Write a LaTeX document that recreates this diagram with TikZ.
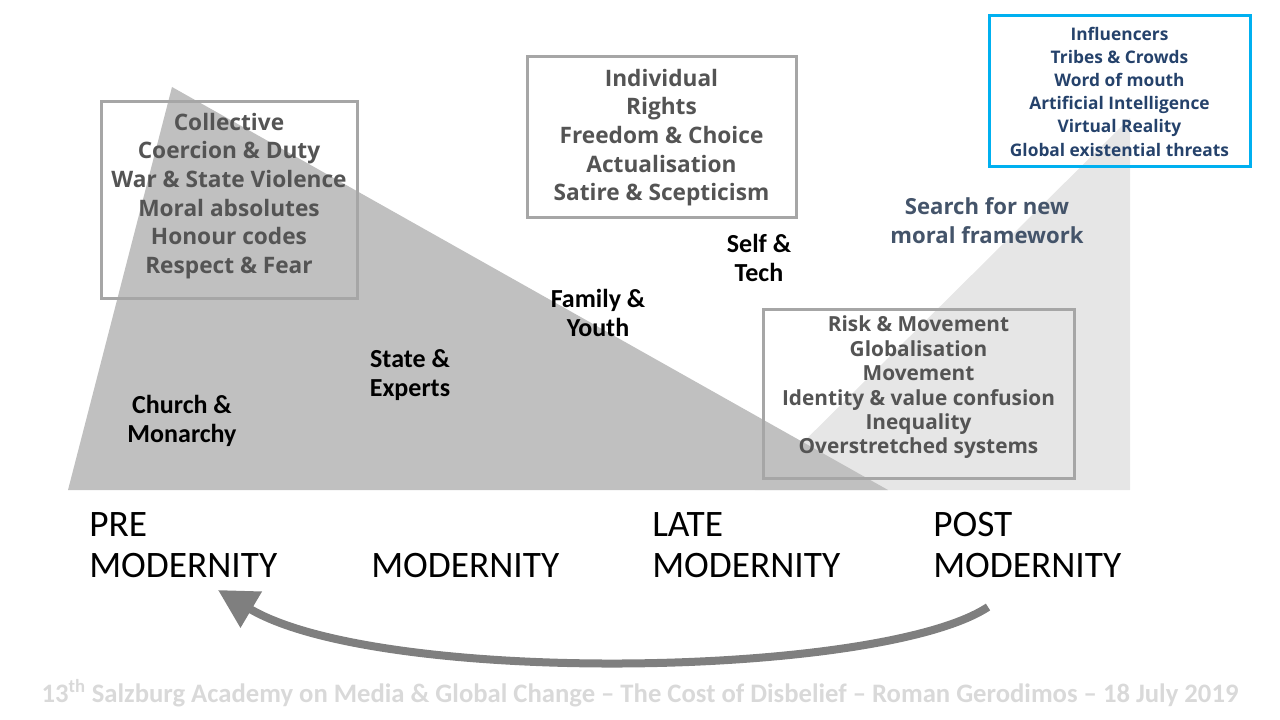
\documentclass[tikz,border=0pt]{standalone}
\usepackage{fontspec}
\setmainfont{Carlito}
\newfontfamily\slidefont{Open Sans}
\usetikzlibrary{arrows.meta}
\definecolor{darkwedge}{HTML}{C0C0C0}
\definecolor{lightwedge}{HTML}{E6E6E6}
\definecolor{boxgrey}{HTML}{A6A6A6}
\definecolor{boxtext}{HTML}{545454}
\definecolor{skyblue}{HTML}{00B0F0}
\definecolor{navytext}{HTML}{25426B}
\definecolor{slatetext}{HTML}{44546A}
\definecolor{footgrey}{HTML}{D9D9D9}
\definecolor{arrowgrey}{HTML}{7F7F7F}
\begin{document}
\begin{tikzpicture}[x=0.75pt,y=-0.75pt,
    greybox/.style={draw=boxgrey, line width=2.25pt, inner sep=0pt, align=center,
      text=boxtext, font=\slidefont\bfseries\fontsize{17}{21.5}\selectfont},
    bluebox/.style={draw=skyblue, line width=2.25pt, inner sep=0pt, align=center,
      text=navytext, font=\slidefont\bfseries\fontsize{13}{17.4}\selectfont},
    agent/.style={align=center, inner sep=0pt, font=\bfseries\fontsize{19.5}{21.5}\selectfont},
    era/.style={align=left, anchor=north west, inner sep=0pt, font=\fontsize{28}{31}\selectfont}]
  \useasboundingbox (0,0) rectangle (1280,720);
  % background wedges
  \fill[lightwedge] (755,490) -- (1130,118) -- (1130,490) -- cycle;
  \fill[darkwedge] (68,490) -- (172,87) -- (888,490) -- cycle;
  % value boxes
  \node[draw=boxgrey, line width=2.25pt, minimum width=192pt, minimum height=147pt] (collective) at (229,200) {};
  \node[greybox, draw=none] (collectivetext) at (229,196)
    {Collective\\Coercion \& Duty\\War \& State Violence\\Moral absolutes\\Honour codes\\Respect \& Fear};
  \node[greybox, minimum width=201.75pt, minimum height=120.75pt] (individual) at (661.5,137.5)
    {Individual\\Rights\\Freedom \& Choice\\Actualisation\\Satire \& Scepticism};
  \node[draw=boxgrey, line width=2.25pt, minimum width=233.25pt, minimum height=126.75pt] (risk) at (918.5,393.5) {};
  \node[greybox, draw=none, font=\slidefont\bfseries\fontsize{15.6}{18.3}\selectfont] (risktext) at (918.5,387.5)
    {Risk \& Movement\\Globalisation\\Movement\\Identity \& value confusion\\Inequality\\Overstretched systems};
  \node[bluebox, minimum width=195.75pt, minimum height=113.25pt] (influencers) at (1119.5,91.5)
    {Influencers\\Tribes \& Crowds\\Word of mouth\\Artificial Intelligence\\Virtual Reality\\Global existential threats};
  \node[align=center, inner sep=0pt, text=slatetext,
    font=\slidefont\bfseries\fontsize{16.6}{21.75}\selectfont] (search) at (987,221)
    {Search for new\\moral framework};
  % sources of authority
  \node[agent] (church) at (182,421) {Church \&\\Monarchy};
  \node[agent] (state) at (410,375) {State \&\\Experts};
  \node[agent] (family) at (598,313) {Family \&\\Youth};
  \node[agent] (self) at (759,258) {Self \&\\Tech};
  % eras
  \node[era] (pre) at (89,512) {PRE\\MODERNITY};
  \node[era] (modern) at (371,553) {MODERNITY};
  \node[era] (late) at (652,512) {LATE\\MODERNITY};
  \node[era] (post) at (933,512) {POST\\MODERNITY};
  % return arrow
  \coordinate (arrowstart) at (988,607);
  \coordinate (arrowend) at (218,590);
  \draw[arrowgrey, line width=6pt, -{Triangle[length=29pt, width=30pt]}]
    (arrowstart) .. controls (880,678) and (380,686) .. (arrowend);
  \node[text=footgrey, inner sep=0pt, font=\bfseries\fontsize{20}{24}\selectfont] (footer) at (640,693)
    {13\textsuperscript{th} Salzburg Academy on Media \& Global Change -- The Cost of Disbelief -- Roman Gerodimos -- 18 July 2019};
\end{tikzpicture}
\end{document}
